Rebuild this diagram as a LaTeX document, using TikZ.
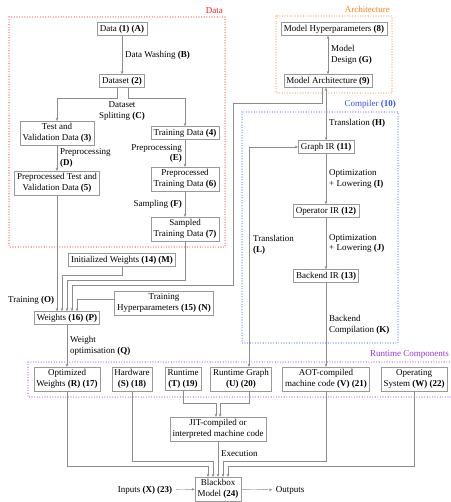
\documentclass[tikz,border=0pt]{standalone}
\usepackage{fontspec}
\setmainfont{Liberation Serif}
\usetikzlibrary{arrows.meta,positioning}

\definecolor{datared}{RGB}{240,30,30}
\definecolor{archorange}{RGB}{250,130,20}
\definecolor{compblue}{RGB}{50,80,250}
\definecolor{rtpurple}{RGB}{150,50,230}

\begin{document}
\begin{tikzpicture}[x=1pt, y=-1pt, >={Stealth[length=3.2pt,width=2.6pt]},
  every node/.style={font=\fontsize{9}{10.5}\selectfont},
  box/.style={draw=gray!80, fill=white, align=center, inner sep=2.5pt},
  lbl/.style={align=left, inner sep=0pt},
  conn/.style={draw=gray!90, ->},
  group/.style={line cap=round, dash pattern=on 0pt off 2.6pt, line width=1.1pt}]
  \useasboundingbox (0,0) rectangle (450,502);

  % groups
  \draw[group, draw=datared] (9,17) rectangle (225,247);
  \node[datared, anchor=south east, inner sep=1pt] at (224,15) {Data};
  \draw[group, draw=archorange] (276,16) rectangle (392,93);
  \node[archorange, anchor=south east, inner sep=1pt] at (391,14) {Architecture};
  \draw[group, draw=compblue] (242,112) rectangle (398,343);
  \node[compblue, anchor=south east, inner sep=1pt] at (397,110) {Compiler \textbf{(10)}};
  \draw[group, draw=rtpurple] (28,362) rectangle (452,397);
  \node[rtpurple, anchor=south east, inner sep=1pt] at (450,360) {Runtime Components};

  % data
  \node[box] (d1) at (122,29) {Data \textbf{(1) (A)}};
  \node[box] (d2) at (122,81) {Dataset \textbf{(2)}};
  \node[box] (d3) at (57,133) {Test and\\Validation Data \textbf{(3)}};
  \node[box] (d4) at (185,133) {Training Data \textbf{(4)}};
  \node[box] (d5) at (57,183) {Preprocessed Test and\\Validation Data \textbf{(5)}};
  \node[box] (d6) at (185,179) {Preprocessed\\Training Data \textbf{(6)}};
  \node[box] (d7) at (185,229) {Sampled\\Training Data \textbf{(7)}};

  % architecture and compiler
  \node[box] (a8) at (334,29) {Model Hyperparameters \textbf{(8)}};
  \node[box] (a9) at (328,81) {Model Architecture \textbf{(9)}};
  \node[box] (c11) at (326,147) {Graph IR \textbf{(11)}};
  \node[box] (c12) at (326,211) {Operator IR \textbf{(12)}};
  \node[box] (c13) at (326,276) {Backend IR \textbf{(13)}};

  % training
  \node[box] (w14) at (122,260) {Initialized Weights \textbf{(14) (M)}};
  \node[box] (h15) at (164,303) {Training\\Hyperparameters \textbf{(15) (N)}};
  \node[box] (w16) at (67,318) {Weights \textbf{(16) (P)}};
  \node[lbl, anchor=west] (train) at (8,300) {Training \textbf{(O)}};

  % runtime
  \node[box] (r17) at (67,379) {Optimized\\Weights \textbf{(R) (17)}};
  \node[box] (r18) at (132,379) {Hardware\\\textbf{(S) (18)}};
  \node[box] (r19) at (183,379) {Runtime\\\textbf{(T) (19)}};
  \node[box] (r20) at (241,379) {Runtime Graph\\\textbf{(U) (20)}};
  \node[box] (r21) at (326,379) {AOT-compiled\\machine code \textbf{(V) (21)}};
  \node[box] (r22) at (414,379) {Operating\\System \textbf{(W) (22)}};
  \node[box] (jit) at (218,429) {JIT-compiled or\\interpreted machine code};
  \node[box] (bb) at (218,489) {Blackbox\\Model \textbf{(24)}};
  \node (in) at (145,490) {Inputs \textbf{(X) (23)}};
  \node (out) at (290,490) {Outputs};

  % data flow
  \draw[conn] (d1) -- (d2) node[lbl, midway, right=3pt] {Data Washing \textbf{(B)}};
  \draw[conn] ([xshift=-5]d2.south) -- ++(0,10.5) -| (d3.north);
  \draw[conn] ([xshift=6]d2.south) -- ++(0,10.5) -| (d4.north);
  \node[align=center, inner sep=0pt] (split) at (122,111) {Dataset\\Splitting \textbf{(C)}};
  \draw[conn] (d3) -- (d5) node[lbl, midway, right=3pt] {Preprocessing\\\textbf{(D)}};
  \draw[conn] (d4) -- (d6) node[lbl, align=right, midway, left=3pt] {Preprocessing\\\textbf{(E)}};
  \draw[conn] (d6) -- (d7) node[lbl, midway, left=3pt] {Sampling \textbf{(F)}};

  % model and compiler flow
  \draw[conn, <->] (a9.north) -- (a9.north |- a8.south)
    node[lbl, midway, right=3pt] {Model\\Design \textbf{(G)}};
  \draw[conn, <->] (c11.north |- a9.south) -- (c11.north)
    node[lbl, pos=0.68, right=3pt] {Translation \textbf{(H)}};
  \draw[conn] (c11) -- (c12) node[lbl, midway, right=3pt] {Optimization\\+ Lowering \textbf{(I)}};
  \draw[conn] (c12) -- (c13) node[lbl, midway, right=3pt] {Optimization\\+ Lowering \textbf{(J)}};
  \draw[conn] (c13) -- (r21) node[lbl, midway, right=3pt] {Backend\\Compilation \textbf{(K)}};
  \draw[conn, <->] (c11.west) -| ([xshift=8]r20.north);
  \node[lbl, anchor=west] (transl) at (253,245) {Translation\\\textbf{(L)}};

  % training inputs
  \draw[conn] (d5.south) -- ([xshift=-10]w16.north);
  \draw[conn] (w14.south) -- ++(0,8) -| ([xshift=-5]w16.north);
  \draw[conn] (d7.south) -- ++(0,39) -| (w16.north);
  \draw[conn] ([xshift=-6]a9.south) -- ++(0,15) -| ++(-89,182) -| ([xshift=5]w16.north);
  \draw[conn] ([yshift=4]h15.west) -| ([xshift=10]w16.north);
  \draw[conn] (w16) -- (r17) node[lbl, midway, right=3pt] {Weight\\optimisation \textbf{(Q)}};

  % runtime flow
  \draw[conn] (r19.south) -- ++(0,12) -| ([xshift=-2]jit.north);
  \draw[conn] ([xshift=8]r20.south) -- ++(0,12) -| ([xshift=2]jit.north);
  \draw[conn] (r17.south) -- ++(0,75) -| ([xshift=-10]bb.north);
  \draw[conn] (r18.south) -- ++(0,70) -| ([xshift=-5]bb.north);
  \draw[conn] (jit) -- (bb) node[lbl, pos=0.35, right=3pt] {Execution};
  \draw[conn] (r21.south) -- ++(0,70) -| ([xshift=5]bb.north);
  \draw[conn] (r22.south) -- ++(0,75) -| ([xshift=10]bb.north);
  \draw[conn] (in) -- (bb);
  \draw[conn] (bb) -- (out);
\end{tikzpicture}
\end{document}
